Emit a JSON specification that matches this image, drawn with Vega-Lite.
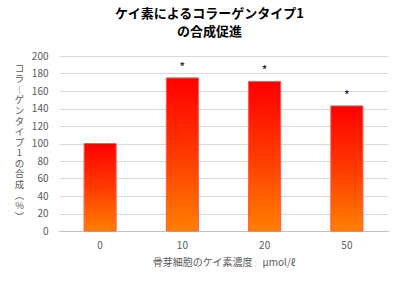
{
  "$schema": "https://vega.github.io/schema/vega-lite/v6.json",
  "autosize": "none",
  "width": 329,
  "height": 175,
  "padding": {"left": 59, "top": 56, "right": 12, "bottom": 54},
  "background": "white",
  "title": {
    "text": ["ケイ素によるコラーゲンタイプ1", "の合成促進"],
    "anchor": "middle",
    "dx": -14,
    "font": "Noto Sans CJK JP",
    "fontSize": 13,
    "fontWeight": "bold",
    "color": "#000000",
    "lineHeight": 18,
    "offset": 12
  },
  "config": {
    "view": {"stroke": null},
    "font": "Noto Sans CJK JP"
  },
  "data": {
    "values": [
      {"conc": "0", "value": 100, "sig": ""},
      {"conc": "10", "value": 175, "sig": "*"},
      {"conc": "20", "value": 171, "sig": "*"},
      {"conc": "50", "value": 143, "sig": "*"}
    ]
  },
  "encoding": {
    "x": {
      "field": "conc",
      "type": "ordinal",
      "sort": null,
      "scale": {"paddingInner": 0.61, "paddingOuter": 0.305},
      "axis": {
        "title": "骨芽細胞のケイ素濃度　μmol/ℓ",
        "titleFont": "Noto Sans CJK JP",
        "titleFontSize": 10,
        "titleFontWeight": "normal",
        "titleColor": "#595959",
        "titlePadding": 7,
        "labelAngle": 0,
        "labelFontSize": 10,
        "labelColor": "#595959",
        "labelPadding": 9,
        "ticks": false,
        "domainColor": "#bfbfbf",
        "domainWidth": 1
      }
    },
    "y": {
      "field": "value",
      "type": "quantitative",
      "scale": {"domain": [0, 200], "nice": false},
      "axis": {
        "values": [0, 20, 40, 60, 80, 100, 120, 140, 160, 180, 200],
        "title": ["コ", "ラ", "︱", "ゲ", "ン", "タ", "イ", "プ", "1", "の", "合", "成", "︵", "%", "︶"],
        "titleAngle": 0,
        "titleX": -40,
        "titleY": 7,
        "titleAlign": "center",
        "titleBaseline": "top",
        "titleLineHeight": 10.6,
        "titleFontSize": 9.5,
        "titleFontWeight": "normal",
        "titleColor": "#595959",
        "labelFontSize": 10,
        "labelColor": "#595959",
        "labelPadding": 11,
        "ticks": false,
        "domain": false,
        "gridColor": "#d9d9d9",
        "gridWidth": 1
      }
    }
  },
  "layer": [
    {
      "mark": {
        "type": "bar",
        "stroke": "#ff5a4a",
        "strokeWidth": 1,
        "color": {
          "gradient": "linear",
          "x1": 0, "y1": 0, "x2": 0, "y2": 1,
          "stops": [
            {"offset": 0, "color": "#ff0000"},
            {"offset": 0.5, "color": "#ff3a00"},
            {"offset": 1, "color": "#ff8000"}
          ]
        }
      }
    },
    {
      "mark": {
        "type": "text",
        "dy": -11,
        "baseline": "middle",
        "fontSize": 10,
        "fontWeight": "bold",
        "color": "#1a2a40"
      },
      "encoding": {"text": {"field": "sig"}}
    }
  ]
}
